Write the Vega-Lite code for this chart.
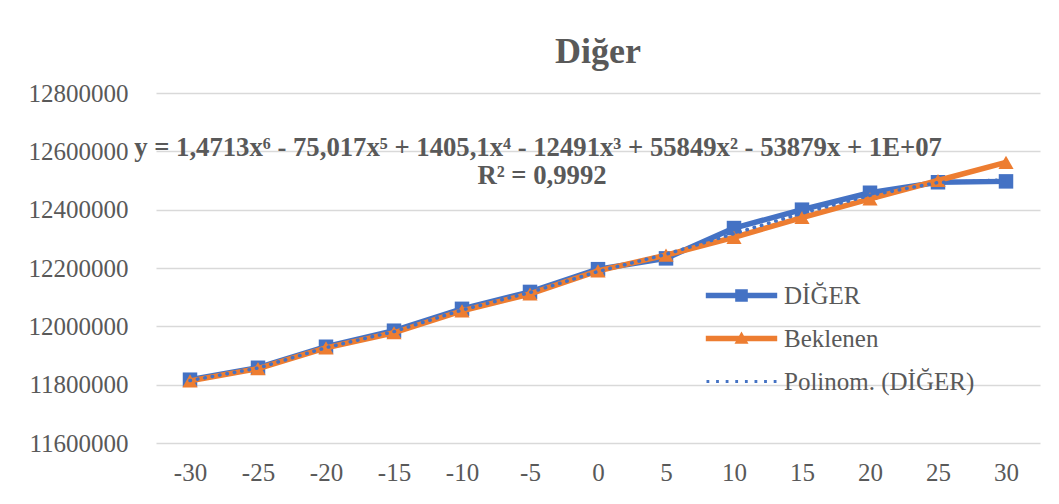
{
  "$schema": "https://vega.github.io/schema/vega-lite/v6.json",
  "width": 884,
  "height": 350,
  "autosize": "none",
  "padding": {"left": 156, "top": 93, "right": 19, "bottom": 61},
  "background": "white",
  "title": {"text": "Diğer", "font": "Liberation Serif", "fontSize": 36, "fontWeight": "bold", "color": "#595959", "anchor": "middle", "offset": 10},
  "config": {
    "view": {"stroke": null},
    "axis": {"labelFont": "Liberation Serif", "labelFontSize": 25, "labelColor": "#595959", "ticks": false, "tickSize": 0, "title": null, "domain": false},
    "legend": {"labelFont": "Liberation Serif", "labelFontSize": 25, "labelColor": "#595959", "labelLimit": 400}
  },
  "data": {"values": [
    {"x": -30, "series": "DİĞER", "value": 11817000},
    {"x": -25, "series": "DİĞER", "value": 11858000},
    {"x": -20, "series": "DİĞER", "value": 11930000},
    {"x": -15, "series": "DİĞER", "value": 11985000},
    {"x": -10, "series": "DİĞER", "value": 12060000},
    {"x": -5, "series": "DİĞER", "value": 12118000},
    {"x": 0, "series": "DİĞER", "value": 12196000},
    {"x": 5, "series": "DİĞER", "value": 12233000},
    {"x": 10, "series": "DİĞER", "value": 12337000},
    {"x": 15, "series": "DİĞER", "value": 12400000},
    {"x": 20, "series": "DİĞER", "value": 12458000},
    {"x": 25, "series": "DİĞER", "value": 12494000},
    {"x": 30, "series": "DİĞER", "value": 12497000},
    {"x": -30, "series": "Beklenen", "value": 11813000},
    {"x": -25, "series": "Beklenen", "value": 11855000},
    {"x": -20, "series": "Beklenen", "value": 11926000},
    {"x": -15, "series": "Beklenen", "value": 11978000},
    {"x": -10, "series": "Beklenen", "value": 12053000},
    {"x": -5, "series": "Beklenen", "value": 12111000},
    {"x": 0, "series": "Beklenen", "value": 12190000},
    {"x": 5, "series": "Beklenen", "value": 12244000},
    {"x": 10, "series": "Beklenen", "value": 12305000},
    {"x": 15, "series": "Beklenen", "value": 12373000},
    {"x": 20, "series": "Beklenen", "value": 12437000},
    {"x": 25, "series": "Beklenen", "value": 12500000},
    {"x": 30, "series": "Beklenen", "value": 12562000},
    {"x": -30, "series": "Polinom. (DİĞER)", "value": 11814000},
    {"x": -25, "series": "Polinom. (DİĞER)", "value": 11857000},
    {"x": -20, "series": "Polinom. (DİĞER)", "value": 11927000},
    {"x": -15, "series": "Polinom. (DİĞER)", "value": 11982000},
    {"x": -10, "series": "Polinom. (DİĞER)", "value": 12056000},
    {"x": -5, "series": "Polinom. (DİĞER)", "value": 12116000},
    {"x": 0, "series": "Polinom. (DİĞER)", "value": 12188000},
    {"x": 5, "series": "Polinom. (DİĞER)", "value": 12247000},
    {"x": 10, "series": "Polinom. (DİĞER)", "value": 12318000},
    {"x": 15, "series": "Polinom. (DİĞER)", "value": 12388000},
    {"x": 20, "series": "Polinom. (DİĞER)", "value": 12449000},
    {"x": 25, "series": "Polinom. (DİĞER)", "value": 12493000},
    {"x": 30, "series": "Polinom. (DİĞER)", "value": 12502000}
  ]},
  "encoding": {
    "x": {"field": "x", "type": "ordinal", "axis": {"labelAngle": 0, "labelPadding": 17, "labelBaseline": "top"}},
    "y": {"field": "value", "type": "quantitative", "scale": {"domain": [11600000, 12800000], "nice": false, "zero": false},
      "axis": {"values": [11600000, 11800000, 12000000, 12200000, 12400000, 12600000, 12800000], "format": "d", "labelPadding": 28, "grid": true, "gridColor": "#D9D9D9", "gridWidth": 1.5}}
  },
  "layer": [
    {"mark": {"type": "point", "filled": true, "size": 196, "opacity": 0},
     "encoding": {
       "color": {"field": "series", "type": "nominal",
         "scale": {"domain": ["DİĞER", "Beklenen", "Polinom. (DİĞER)"], "range": ["#4472C4", "#ED7D31", "#4472C4"]},
         "legend": {"title": null, "orient": "none", "legendX": 573, "legendY": 190, "symbolSize": 196, "symbolOpacity": 1, "symbolStrokeWidth": 0, "labelOffset": 30, "rowPadding": 17}},
       "shape": {"field": "series", "type": "nominal",
         "scale": {"domain": ["DİĞER", "Beklenen", "Polinom. (DİĞER)"], "range": [
           "M-5.1,-0.38L5.1,-0.38L5.1,0.38L-5.1,0.38Z M-0.9,-0.9L0.9,-0.9L0.9,0.9L-0.9,0.9Z",
           "M-5.1,-0.38L5.1,-0.38L5.1,0.38L-5.1,0.38Z M0,-1L1,0.75L-1,0.75Z",
           "M-5,-0.2L-4.6,-0.2L-4.6,0.2L-5,0.2Z M-3.63,-0.2L-3.23,-0.2L-3.23,0.2L-3.63,0.2Z M-2.26,-0.2L-1.86,-0.2L-1.86,0.2L-2.26,0.2Z M-0.89,-0.2L-0.49,-0.2L-0.49,0.2L-0.89,0.2Z M0.49,-0.2L0.89,-0.2L0.89,0.2L0.49,0.2Z M1.86,-0.2L2.26,-0.2L2.26,0.2L1.86,0.2Z M3.23,-0.2L3.63,-0.2L3.63,0.2L3.23,0.2Z M4.6,-0.2L5,-0.2L5,0.2L4.6,0.2Z"]},
         "legend": {"title": null, "orient": "none", "legendX": 573, "legendY": 190, "symbolSize": 196, "symbolOpacity": 1, "symbolStrokeWidth": 0, "labelOffset": 30, "rowPadding": 17}}
     }},
    {"transform": [{"filter": "datum.series === 'DİĞER'"}],
     "mark": {"type": "line", "color": "#4472C4", "strokeWidth": 5.5, "strokeCap": "round", "strokeJoin": "round"}},
    {"transform": [{"filter": "datum.series === 'DİĞER'"}],
     "mark": {"type": "point", "shape": "square", "filled": true, "size": 210, "opacity": 1, "color": "#4472C4"}},
    {"transform": [{"filter": "datum.series === 'Beklenen'"}],
     "mark": {"type": "line", "color": "#ED7D31", "strokeWidth": 5.5, "strokeCap": "round", "strokeJoin": "round"}},
    {"transform": [{"filter": "datum.series === 'Beklenen'"}],
     "mark": {"type": "point", "shape": "triangle-up", "filled": true, "size": 230, "opacity": 1, "color": "#ED7D31"}},
    {"transform": [{"filter": "datum.series === 'Polinom. (DİĞER)'"}],
     "mark": {"type": "line", "color": "#4472C4", "strokeWidth": 3.5, "strokeDash": [0.5, 7], "strokeCap": "round"}},
    {"transform": [{"filter": "datum.series === 'DİĞER' && datum.x === -5"}],
     "mark": {"type": "text", "text": "y = 1,4713x⁶ - 75,017x⁵ + 1405,1x⁴ - 12491x³ + 55849x² - 53879x + 1E+07", "font": "Liberation Serif", "fontSize": 26.7, "fontWeight": "bold", "color": "#595959", "align": "center", "baseline": "middle", "dx": 8},
     "encoding": {"x": {"datum": -5, "type": "ordinal"}, "y": {"datum": 12611000, "type": "quantitative"}}},
    {"transform": [{"filter": "datum.series === 'DİĞER' && datum.x === -5"}],
     "mark": {"type": "text", "text": "R² = 0,9992", "font": "Liberation Serif", "fontSize": 26.7, "fontWeight": "bold", "color": "#595959", "align": "center", "baseline": "middle", "dx": 12},
     "encoding": {"x": {"datum": -5, "type": "ordinal"}, "y": {"datum": 12515000, "type": "quantitative"}}}
  ]
}
